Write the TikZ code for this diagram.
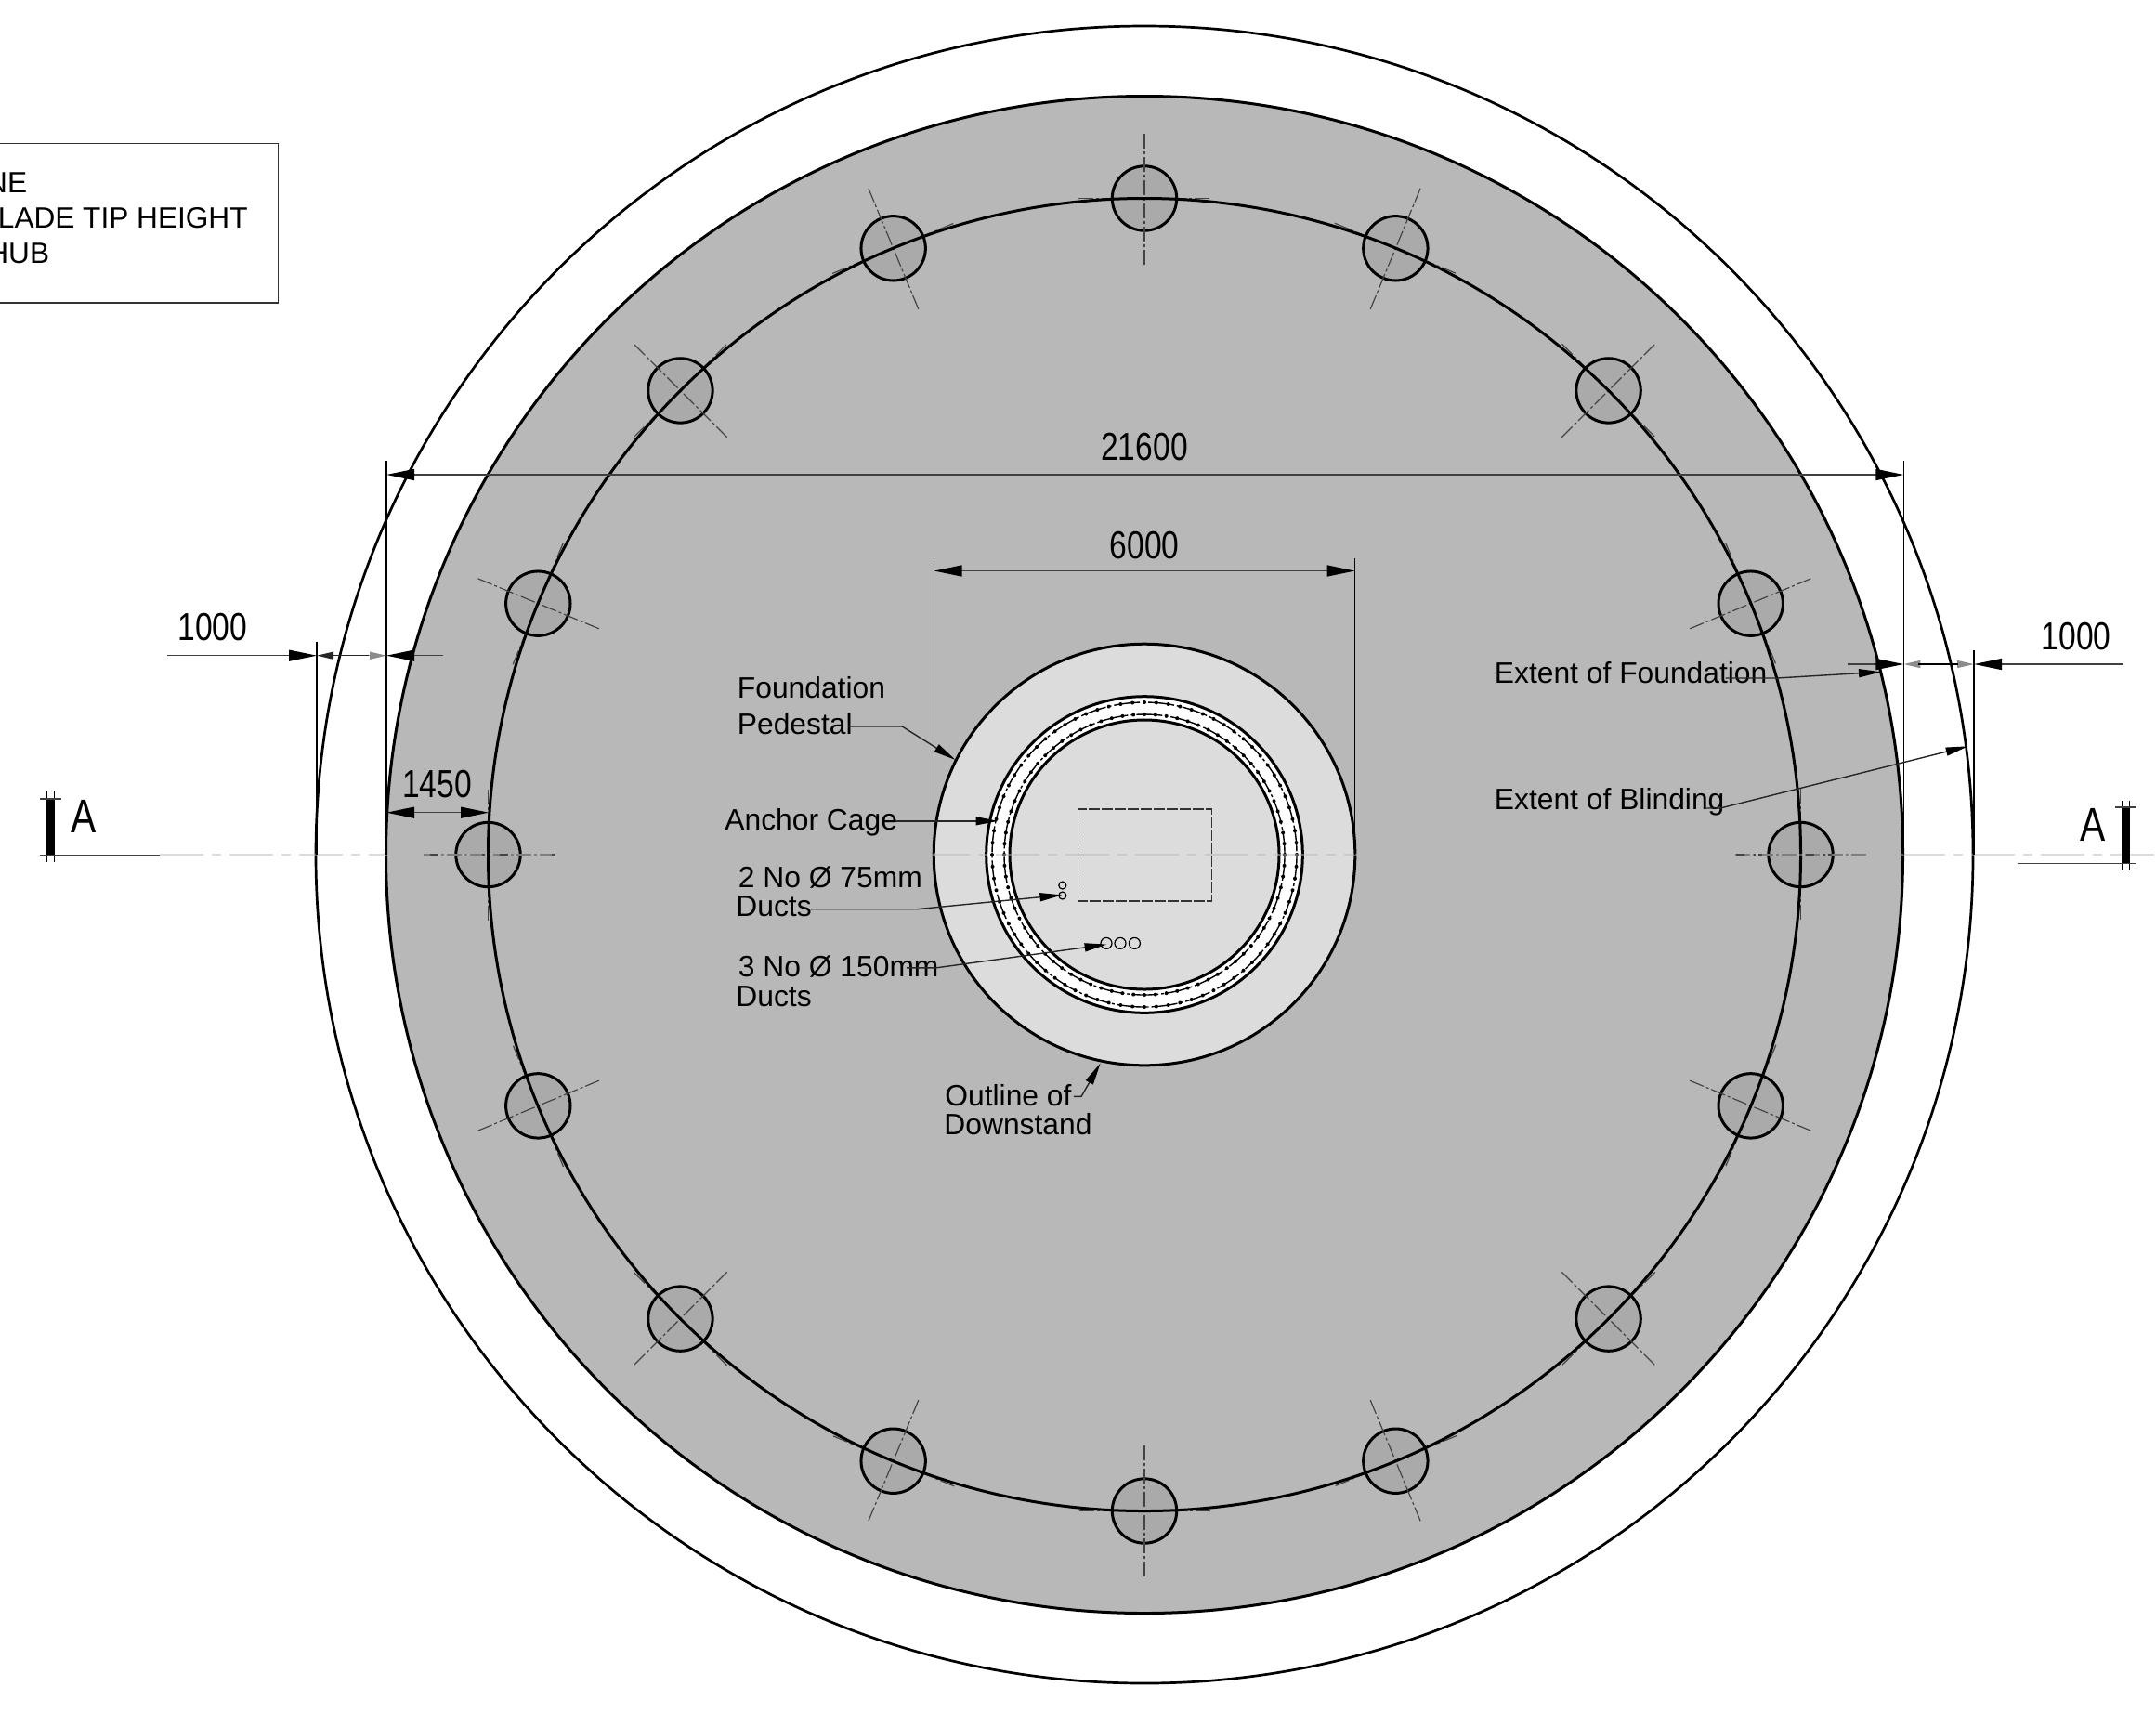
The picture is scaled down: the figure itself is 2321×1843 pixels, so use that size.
\documentclass[tikz,border=0pt]{standalone}
\usepackage{fontspec}
\setmainfont{Liberation Sans}
\newfontfamily\dimfont[FakeStretch=0.8]{Liberation Sans}
\usetikzlibrary{arrows.meta}
\definecolor{foundgray}{HTML}{B8B8B8}
\definecolor{boltgray}{HTML}{AAAAAA}
\definecolor{downgray}{HTML}{DCDCDC}
\definecolor{clinegray}{HTML}{444444}
\tikzset{
  heavy/.style={draw=black,line width=1.5pt},
  thinline/.style={draw=black,line width=0.7pt},
  dimline/.style={draw=black!75,line width=0.75pt},
  bigtip/.tip={Triangle[length=15pt,width=6pt,color=black]},
  smalltip/.tip={Triangle[length=9pt,width=4pt]},
  leadertip/.tip={Triangle[length=12pt,width=4.5pt,color=black]},
  leader/.style={draw=black!85,line width=0.7pt,-{leadertip}},
  cline/.style={draw=clinegray,line width=0.6pt,dash pattern=on 8pt off 1.5pt on 1.5pt off 1.5pt},
  axisline/.style={draw=foundgray,draw opacity=.5,line width=.9pt,dash pattern=on 23.5pt off 4.5pt on 5pt off 4.5pt},
  lab/.style={inner sep=0pt,anchor=base west,font=\fontsize{15.9}{18}\selectfont},
  labr/.style={inner sep=0pt,anchor=base east,font=\fontsize{15.8}{18}\selectfont},
  dimtext/.style={inner sep=0pt,anchor=center,font=\dimfont\fontsize{21}{24}\selectfont},
  seclabel/.style={inner sep=0pt,anchor=center,font=\dimfont\fontsize{25.5}{28}\selectfont},
}
\begin{document}
\begin{tikzpicture}[x=0.5pt,y=-0.5pt]
\path[use as bounding box] (0,0) rectangle (2321,1843);
% main discs
\coordinate (C) at (1232,920);
\draw[heavy,line width=1.35pt] (C) circle [radius=892];
\draw[heavy,fill=foundgray] (C) circle [radius=816.5];
% piles
\begin{scope}[shift={(1232,920)}]
\foreach \a in {0,22.5,...,337.5}{
  \draw[heavy,fill=boltgray] (\a:706.5) circle [radius=34.7];
}
\end{scope}
\begin{scope}[shift={(1232,920)}]
\foreach \a in {0,22.5,...,337.5}{
  \begin{scope}[shift={(\a:706.5)},rotate=-\a]
    \draw[cline] (-71,0) -- (71,0);
    \draw[cline] (0,-71) -- (0,71);
  \end{scope}
}
\end{scope}
\draw[heavy] (C) circle [radius=706.5];
% downstand and cage
\draw[heavy,fill=downgray] (C) circle [radius=226.8];
\draw[heavy,fill=white] (C) circle [radius=170.3];
\draw[heavy,fill=downgray] (C) circle [radius=145];
\draw[line width=0.7pt,dash pattern=on 14pt off 1.5pt on 1.5pt off 1.5pt] (C) circle [radius=164];
\draw[line width=0.7pt,dash pattern=on 14pt off 1.5pt on 1.5pt off 1.5pt] (C) circle [radius=151];
\begin{scope}[shift={(1232,920)}]
\foreach \i in {0,...,79}{
  \fill (\i*4.5:164) circle [radius=2];
  \fill (\i*4.5:151) circle [radius=2];
}
\end{scope}
% tower door opening
\draw[line width=0.8pt,draw=black!80,dash pattern=on 6pt off 1pt] (1160.3,871) rectangle (1304.3,970);
% ducts
\draw[line width=0.6pt] (1143.8,953) circle [radius=4];
\draw[line width=0.6pt] (1143.8,964) circle [radius=4];
\draw[line width=0.6pt] (1191,1015.4) circle [radius=6];
\draw[line width=0.6pt] (1206,1015.4) circle [radius=6];
\draw[line width=0.6pt] (1221.4,1015.4) circle [radius=6];
% centre axis
\draw[axisline] (172,920) -- (2321,920);
% section marks
\fill[black] (50,860) rectangle (58.5,920);
\draw[thinline] (50.6,852) -- (50.6,928);
\draw[thinline] (58.5,852) -- (58.5,928);
\draw[dimline] (43,860) -- (66,860);
\draw[dimline] (43,920.5) -- (172,920.5);
\node[seclabel] (secL) at (90,878.5) {A};
\fill[black] (2285,869) rectangle (2292.4,929.7);
\draw[thinline] (2285,861.7) -- (2285,937);
\draw[thinline] (2292.4,861.7) -- (2292.4,937);
\draw[dimline] (2277,869) -- (2300,869);
\draw[dimline] (2171.5,929.7) -- (2300,929.7);
\node[seclabel] (secR) at (2253,888) {A};
% extension lines
\draw[thinline] (341,690.7) -- (341,920);
\draw[thinline] (416,496) -- (416,920);
\draw[thinline] (2049.3,496) -- (2049.3,920);
\draw[thinline] (2125,700) -- (2125,920);
\draw[thinline] (1005.6,601) -- (1005.6,920);
\draw[thinline] (1458.6,601) -- (1458.6,920);
% overall dimensions
\coordinate (d1a) at (416,511); \coordinate (d1b) at (2049.3,511);
\draw[dimline,{bigtip}-{bigtip}] (d1a) -- (d1b);
\node[dimtext] (d1) at (1232,481) {21600};
\coordinate (d2a) at (1005.6,614.5); \coordinate (d2b) at (1458.6,614.5);
\draw[dimline,{bigtip}-{bigtip}] (d2a) -- (d2b);
\node[dimtext] (d2) at (1232,587) {6000};
% 1000 left
\coordinate (d3o) at (180,705.7); \coordinate (d3a) at (341,705.7); \coordinate (d3m) at (397,705.7); \coordinate (d3b) at (416,705.7); \coordinate (d3e) at (477,705.7);
\draw[dimline,-{bigtip}] (d3o) -- (d3a);
\draw[dimline,-{bigtip}] (d3e) -- (d3b);
\draw[draw=black!85,line width=0.75pt,{smalltip}-] (d3a) -- (d3m);
\draw[draw=black!45,line width=0.75pt,-{smalltip}] (d3m) -- (d3b);
\node[dimtext] (d3) at (229,675) {1000};
% 1000 right
\coordinate (d4o) at (1988.5,715); \coordinate (d4a) at (2049.3,715); \coordinate (d4b) at (2125,715); \coordinate (d4e) at (2286,715);
\draw[dimline,-{bigtip}] (d4o) -- (d4a);
\draw[dimline,-{bigtip}] (d4e) -- (d4b);
\draw[draw=black!45,line width=0.75pt,{smalltip}-{smalltip}] (d4a) -- (d4b);
\draw[line width=0.75pt] (2065,715) -- (2108,715);
\node[dimtext] (d4) at (2235,685) {1000};
% 1450
\coordinate (d5a) at (416,874.7); \coordinate (d5b) at (526,874.7);
\draw[dimline,{bigtip}-{bigtip}] (d5a) -- (d5b);
\node[dimtext] (d5) at (470.5,844) {1450};
% notes
\node[lab] (n1) at (793.5,751.7) {Foundation};
\node[lab] (n2) at (793.5,790.4) {Pedestal};
\node[lab] (n3) at (780,893.7) {Anchor Cage};
\node[lab] (n4) at (794.5,955) {2 No Ø 75mm};
\node[lab] (n5) at (792,986) {Ducts};
\node[lab] (n6) at (794.5,1051.4) {3 No Ø 150mm};
\node[lab] (n7) at (792,1083) {Ducts};
\node[lab] (n8) at (1017,1190) {Outline of};
\node[lab] (n9) at (1016,1221) {Downstand};
\node[lab] (n10) at (1608.5,735) {Extent of Foundation};
\node[lab] (n11) at (1608.5,871.7) {Extent of Blinding};
% leaders
\coordinate (l2s) at (913.8,782); \coordinate (l2m) at (971.2,782); \coordinate (l2t) at (1028.6,818);
\draw[leader] (l2s) -- (l2m) -- (l2t);
\coordinate (l3s) at (964,883.8); \coordinate (l3t) at (1074.5,883.8);
\draw[leader] (l3s) -- (l3t);
\coordinate (l5s) at (872.5,978.7); \coordinate (l5m) at (987,978.7); \coordinate (l5t) at (1143.4,963.4);
\draw[leader] (l5s) -- (l5m) -- (l5t);
\coordinate (l6s) at (975.8,1041.8); \coordinate (l6m) at (1008,1041.8); \coordinate (l6t) at (1191.6,1016.6);
\draw[leader] (l6s) -- (l6m) -- (l6t);
\coordinate (l8s) at (1155.8,1180.4); \coordinate (l8m) at (1164,1180.4); \coordinate (l8t) at (1184.7,1144.4);
\draw[leader] (l8s) -- (l8m) -- (l8t);
\coordinate (l10s) at (1857.5,730); \coordinate (l10m) at (1912.6,730); \coordinate (l10t) at (2025,723.3);
\draw[leader] (l10s) -- (l10m) -- (l10t);
\coordinate (l11s) at (1834.5,870); \coordinate (l11m) at (1852,870); \coordinate (l11t) at (2118.6,803.3);
\draw[leader] (l11s) -- (l11m) -- (l11t);
% title box
\draw[line width=0.7pt,draw=black!80] (-5,154.5) -- (299.7,154.5) -- (299.7,326) -- (-5,326);
\node[labr] (t1) at (29.5,207) {NE};
\node[labr] (t2) at (267,245) {LADE TIP HEIGHT};
\node[labr] (t3) at (53.5,283) {HUB};
\end{tikzpicture}
\end{document}
